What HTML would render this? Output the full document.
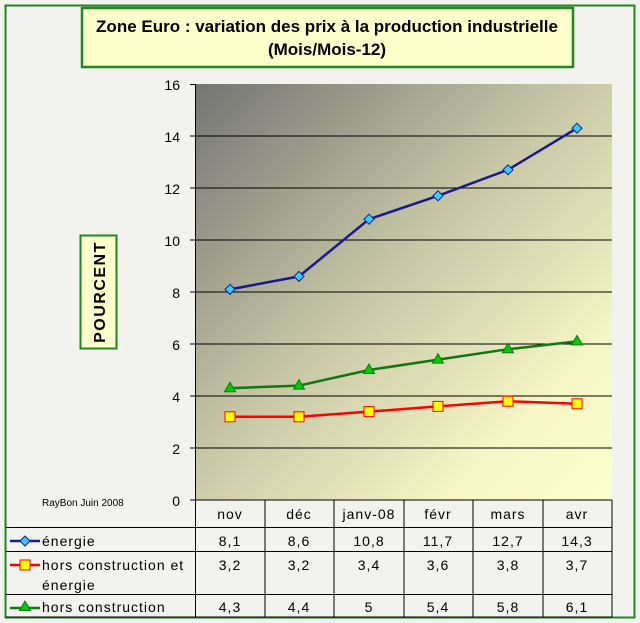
<!DOCTYPE html>
<html><head><meta charset="utf-8"><style>
body{margin:0;width:640px;height:623px;background:#f3f3f1;overflow:hidden}
svg{display:block}
text{font-family:"Liberation Sans",Arial,sans-serif}
</style></head><body>
<svg width="640" height="623" xmlns="http://www.w3.org/2000/svg">
<defs>
<linearGradient id="g" x1="0" y1="0" x2="1" y2="1">
<stop offset="0" stop-color="#747474"/>
<stop offset="0.45" stop-color="#c6c6a6"/>
<stop offset="0.8" stop-color="#f6f6c6"/>
<stop offset="1" stop-color="#ffffcc"/>
</linearGradient>
</defs>
<rect x="0" y="0" width="640" height="623" fill="#f2f2ef"/>
<rect x="5.5" y="5.5" width="629" height="612" fill="none" stroke="#1e8a1e" stroke-width="2"/>
<rect x="82" y="8" width="491" height="59" fill="#ffffcc" stroke="#1e8a1e" stroke-width="2.5"/>
<text x="327" y="32" font-size="17" font-weight="bold" text-anchor="middle">Zone Euro : variation des prix à la production industrielle</text>
<text x="327" y="55" font-size="17" font-weight="bold" text-anchor="middle">(Mois/Mois-12)</text>
<rect x="80.5" y="235.5" width="36" height="113" fill="#ffffcc" stroke="#1e8a1e" stroke-width="2"/>
<text transform="translate(105,292) rotate(-90)" font-size="16" font-weight="bold" text-anchor="middle" letter-spacing="1.5">POURCENT</text>
<rect x="195" y="84" width="417" height="416" fill="url(#g)"/>
<g stroke="#000" stroke-width="1">
<line x1="195" y1="136" x2="612" y2="136"/><line x1="195" y1="188" x2="612" y2="188"/>
<line x1="195" y1="240" x2="612" y2="240"/><line x1="195" y1="292" x2="612" y2="292"/>
<line x1="195" y1="344" x2="612" y2="344"/><line x1="195" y1="396" x2="612" y2="396"/>
<line x1="195" y1="448" x2="612" y2="448"/>
<line x1="195.5" y1="84" x2="195.5" y2="500"/>
<line x1="190" y1="84.5" x2="195" y2="84.5"/>
<line x1="190" y1="136" x2="195" y2="136"/><line x1="190" y1="188" x2="195" y2="188"/><line x1="190" y1="240" x2="195" y2="240"/><line x1="190" y1="292" x2="195" y2="292"/><line x1="190" y1="344" x2="195" y2="344"/><line x1="190" y1="396" x2="195" y2="396"/><line x1="190" y1="448" x2="195" y2="448"/><line x1="190" y1="500" x2="612" y2="500"/>
</g>
<g font-size="14" text-anchor="end">
<text x="180" y="90">16</text><text x="180" y="142">14</text><text x="180" y="194">12</text><text x="180" y="246">10</text><text x="180" y="298">8</text><text x="180" y="350">6</text><text x="180" y="402">4</text><text x="180" y="454">2</text><text x="180" y="506">0</text>
</g>
<text x="42" y="506" font-size="10">RayBon Juin 2008</text>
<polyline fill="none" stroke="#1a1a8c" stroke-width="2.5" points="230,289.4 299,276.4 369,219.2 438,195.8 508,169.8 577,128.2"/>
<polyline fill="none" stroke="#ff0000" stroke-width="2.5" points="230,416.8 299,416.8 369,411.6 438,406.4 508,401.2 577,403.8"/>
<polyline fill="none" stroke="#117711" stroke-width="2.5" points="230,388.2 299,385.6 369,370 438,359.6 508,349.2 577,341.4"/>
<g fill="#33ccff" stroke="#1a1a8c" stroke-width="1">
<path d="M230 284.4l5 5-5 5-5-5z"/><path d="M299 271.4l5 5-5 5-5-5z"/><path d="M369 214.2l5 5-5 5-5-5z"/><path d="M438 190.8l5 5-5 5-5-5z"/><path d="M508 164.8l5 5-5 5-5-5z"/><path d="M577 123.2l5 5-5 5-5-5z"/>
</g>
<g fill="#ffff00" stroke="#ff0000" stroke-width="1">
<rect x="225" y="411.8" width="10" height="10"/><rect x="294" y="411.8" width="10" height="10"/><rect x="364" y="406.6" width="10" height="10"/><rect x="433" y="401.4" width="10" height="10"/><rect x="503" y="396.2" width="10" height="10"/><rect x="572" y="398.8" width="10" height="10"/>
</g>
<g fill="#00cc00" stroke="#117711" stroke-width="1">
<path d="M230 382.2l5.5 9.5h-11z"/><path d="M299 379.6l5.5 9.5h-11z"/><path d="M369 364l5.5 9.5h-11z"/><path d="M438 353.6l5.5 9.5h-11z"/><path d="M508 343.2l5.5 9.5h-11z"/><path d="M577 335.4l5.5 9.5h-11z"/>
</g>
<g stroke="#000" stroke-width="1" fill="none">
<line x1="6" y1="527.5" x2="612" y2="527.5"/><line x1="6" y1="551.5" x2="612" y2="551.5"/><line x1="6" y1="594.5" x2="612" y2="594.5"/><line x1="6" y1="617" x2="612" y2="617"/>
<line x1="195.5" y1="500" x2="195.5" y2="617"/><line x1="265" y1="500" x2="265" y2="617"/><line x1="334" y1="500" x2="334" y2="617"/><line x1="404" y1="500" x2="404" y2="617"/><line x1="473" y1="500" x2="473" y2="617"/><line x1="543" y1="500" x2="543" y2="617"/><line x1="612" y1="500" x2="612" y2="617"/>
</g>
<g font-size="14" text-anchor="middle" letter-spacing="1">
<text x="230" y="519">nov</text><text x="299" y="519">déc</text><text x="369" y="519">janv-08</text><text x="438" y="519">févr</text><text x="508" y="519">mars</text><text x="577" y="519">avr</text>
<text x="230" y="546">8,1</text><text x="299" y="546">8,6</text><text x="369" y="546">10,8</text><text x="438" y="546">11,7</text><text x="508" y="546">12,7</text><text x="577" y="546">14,3</text>
<text x="230" y="570">3,2</text><text x="299" y="570">3,2</text><text x="369" y="570">3,4</text><text x="438" y="570">3,6</text><text x="508" y="570">3,8</text><text x="577" y="570">3,7</text>
<text x="230" y="612">4,3</text><text x="299" y="612">4,4</text><text x="369" y="612">5</text><text x="438" y="612">5,4</text><text x="508" y="612">5,8</text><text x="577" y="612">6,1</text>
</g>
<line x1="10" y1="541" x2="40" y2="541" stroke="#1a1a8c" stroke-width="2.5"/><path d="M25 536l5 5-5 5-5-5z" fill="#33ccff" stroke="#1a1a8c"/>
<line x1="10" y1="565" x2="40" y2="565" stroke="#ff0000" stroke-width="2.5"/><rect x="20" y="560" width="10" height="10" fill="#ffff00" stroke="#ff0000"/>
<line x1="10" y1="608" x2="40" y2="608" stroke="#117711" stroke-width="2.5"/><path d="M25 601l5.5 9.5h-11z" fill="#00cc00" stroke="#117711"/>
<g font-size="14" letter-spacing="1">
<text x="42" y="546">énergie</text>
<text x="42" y="570">hors construction et</text>
<text x="42" y="590">énergie</text>
<text x="42" y="612">hors construction</text>
</g>
</svg>
</body></html>
